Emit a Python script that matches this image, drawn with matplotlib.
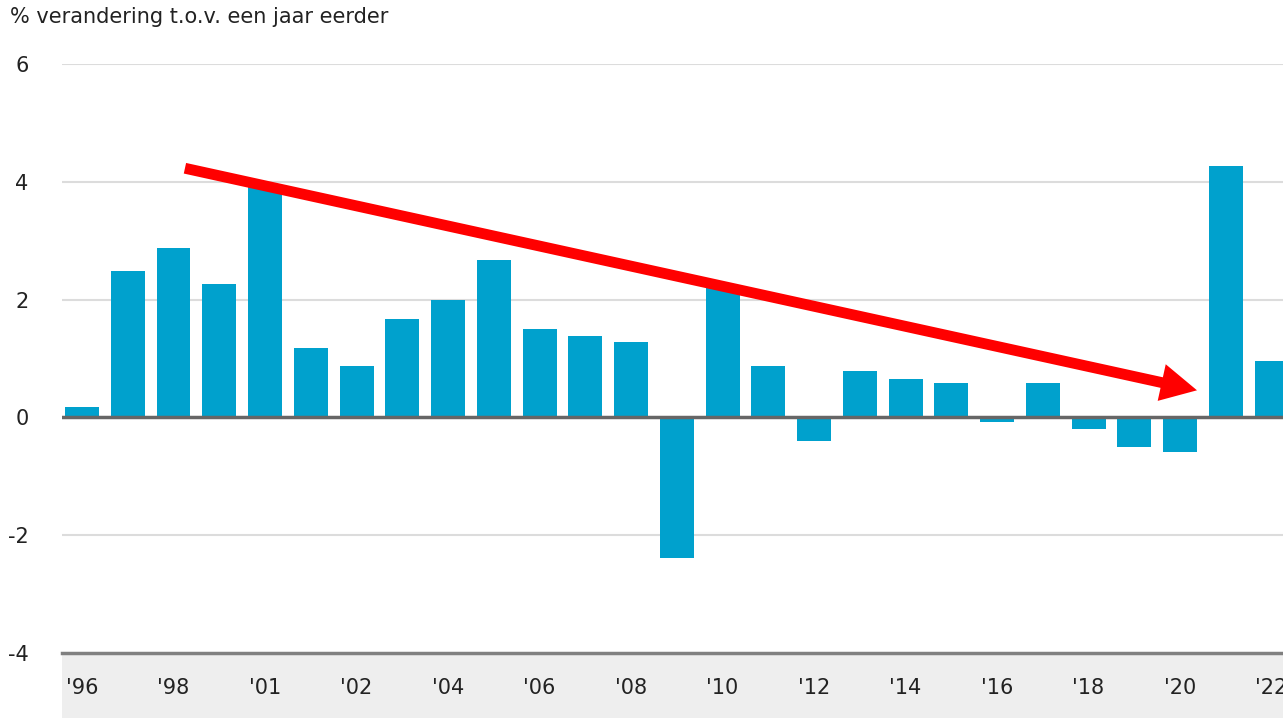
import matplotlib
matplotlib.use('Agg')
import matplotlib.pyplot as plt
from matplotlib.patches import Rectangle
import numpy as np

plt.rcParams['font.family'] = ['DejaVu Sans']

years  = list(range(1996, 2023))
values = [0.17, 2.48, 2.87, 2.26, 3.97, 1.17, 0.88, 1.67, 1.99, 2.67,
          1.50, 1.38, 1.28, -2.38, 2.25, 0.88, -0.40, 0.78, 0.66, 0.58,
          -0.08, 0.58, -0.19, -0.51, -0.58, 4.27, 0.95]
xlabels = ["'96", "'98", "'01", "'02", "'04", "'06", "'08",
           "'10", "'12", "'14", "'16", "'18", "'20", "'22"]
yticks = [-4, -2, 0, 2, 4, 6]
title = '% verandering t.o.v. een jaar eerder'

# arrow (data coords): start -> tip
arrow_start = (2.25, 4.23)
arrow_end   = (24.37, 0.46)

W, H = 1283, 718
fig = plt.figure(figsize=(W/100, H/100), dpi=100)
ax = fig.add_axes([62/W, 1-653/H, 1-62/W, (653-64)/H])

# grey band under the axis
band_h = (718-653)/(653-64)
ax.add_patch(Rectangle((0, -band_h), 1, band_h, transform=ax.transAxes,
                       facecolor='#eeeeee', edgecolor='none', zorder=0, clip_on=False))

x = np.arange(len(years))
ax.bar(x, values, width=0.743, color='#00a1cd', zorder=2)

for v in [2, 4, 6, -2]:
    ax.axhline(v, color='#dcdcdc', lw=1.5, zorder=1)
ax.axhline(0, color='#666666', lw=2.5, zorder=3)
ax.axhline(-4, color='#808080', lw=2.5, zorder=3, clip_on=False)

ax.set_xlim(-0.437, 26.25)
ax.set_ylim(-4, 6)
ax.set_yticks(yticks)
ax.set_yticklabels([str(t) for t in yticks])
ax.set_xticks(x[::2])
ax.set_xticklabels(xlabels)
ax.tick_params(axis='y', length=0, pad=24, labelsize=15, labelcolor='#222222')
ax.tick_params(axis='x', length=0, pad=18, labelsize=15, labelcolor='#222222')
for s in ax.spines.values():
    s.set_visible(False)
ax.patch.set_alpha(0)

ax.annotate('', xy=arrow_end, xytext=arrow_start,
            arrowprops=dict(arrowstyle='simple,head_length=2.6,head_width=2.7,tail_width=0.78',
                            mutation_scale=10, fc='#ff0000', ec='none', lw=0,
                            shrinkA=0, shrinkB=0),
            zorder=5)

fig.text(10/W, 1-17/H, title, fontsize=15, color='#222222', ha='left', va='center')

fig.savefig('out.png', dpi=100)
